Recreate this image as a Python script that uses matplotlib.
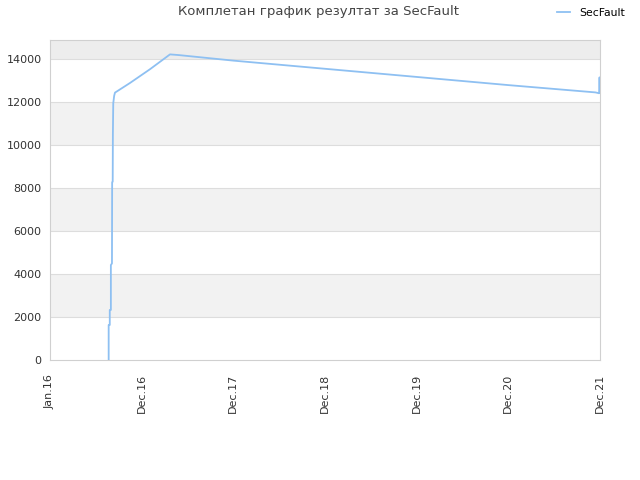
import matplotlib
matplotlib.use("Agg")
import matplotlib.pyplot as plt
from matplotlib.lines import Line2D

# time in years since the first tick (Jan.16)
t = [0.640, 0.640, 0.652, 0.652, 0.664, 0.664, 0.676, 0.678, 0.684, 0.686, 0.690,
     0.700, 0.709, 0.873, 1.091, 1.309, 1.40, 2.00, 3.00, 4.00, 5.00, 5.95, 5.99, 5.995, 6.00]
values = [0, 1630, 1630, 2330, 2330, 4420, 4500, 8280, 8300, 10500, 11950,
          12300, 12450, 12900, 13540, 14230, 14200, 13940, 13560, 13180, 12800,
          12460, 12420, 13160, 12450]

tick_pos = [0, 1, 2, 3, 4, 5, 6]
tick_labels = ["Jan.16", "Dec.16", "Dec.17", "Dec.18", "Dec.19", "Dec.20", "Dec.21"]
y_ticks = [0, 2000, 4000, 6000, 8000, 10000, 12000, 14000]

fig = plt.figure(figsize=(6.4, 4.8), dpi=100)
ax = fig.add_axes([50/640, 120/480, 550/640, 320/480])

ymax = 14900
ax.set_xlim(0, 6)
ax.set_ylim(0, ymax)

# alternating bands
for i, y0 in enumerate(y_ticks):
    y1 = min(y0 + 2000, ymax)
    if y0 == 14000:
        col = "#ededed"
    elif i % 2 == 1:
        col = "#f2f2f2"
    else:
        col = "#ffffff"
    ax.axhspan(y0, y1, color=col, zorder=0, lw=0)
for y in y_ticks[1:]:
    ax.axhline(y, color="#dddddd", lw=0.8, zorder=1)

ax.plot(t, values, color="#8ec0f2", lw=1.3, zorder=3)

ax.set_xticks(tick_pos)
ax.set_xticklabels(tick_labels, rotation=90, fontsize=8, color="#333333")
ax.set_yticks(y_ticks)
ax.set_yticklabels([str(v) for v in y_ticks], fontsize=8, color="#333333")
ax.tick_params(axis="y", length=0, pad=6)
ax.tick_params(axis="x", length=0, pad=10)
for s in ax.spines.values():
    s.set_color("#d0d0d0")
    s.set_linewidth(0.8)

fig.text(318/640, 1 - 12/480, "Комплетан график резултат за SecFault",
         ha="center", va="center", fontsize=9.5, color="#444444")

fig.legend(handles=[Line2D([], [], color="#8ec0f2", lw=1.3)], labels=["SecFault"],
           loc="center", bbox_to_anchor=(591/640, 1 - 13/480), frameon=False,
           fontsize=7.8, handlelength=1.2, handletextpad=0.8)

fig.savefig("out.png", dpi=100)
